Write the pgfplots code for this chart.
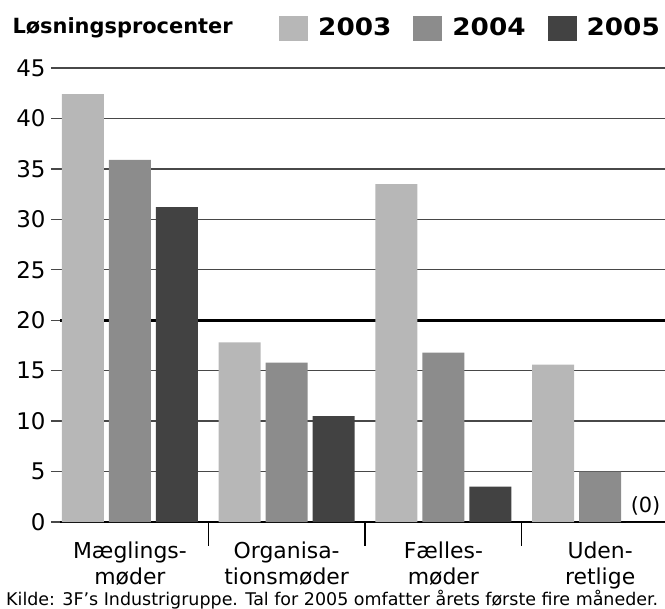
\documentclass[border=0pt]{standalone}
\usepackage{pgfplots}
\pgfplotsset{compat=1.18}
\usepackage{fontspec}
\setmainfont{DejaVu Sans}
\newfontfamily\legfont[FakeStretch=1.1]{DejaVu Sans}
\definecolor{c03}{RGB}{183,183,183}
\definecolor{c04}{RGB}{140,140,140}
\definecolor{c05}{RGB}{66,66,66}
\definecolor{gridc}{RGB}{72,72,72}
\begin{document}
\begin{tikzpicture}
\useasboundingbox (0,0) rectangle (665bp,609bp);
\begin{axis}[
 at={(60bp,87bp)}, anchor=south west,
 scale only axis, width=605bp, height=454bp,
 xmin=-0.446, xmax=3.414, ymin=0, ymax=45,
 clip=false,
 axis x line=bottom, axis y line=left,
 x axis line style={-, line width=1.8bp, black},
 y axis line style={draw=none},
 ytick={0,5,10,15,25,30,35,40,45},
 extra y ticks={20},
 extra y tick style={grid style={black, line width=2.6bp}, major tick style={black, line width=2.6bp}},
 ymajorgrids, grid style={gridc, line width=1.4bp},
 tick align=outside, major tick length=9bp,
 ytick style={gridc, line width=1.4bp},
 yticklabel style={font=\fontsize{23}{23}\selectfont, xshift=-2bp},
 /pgf/number format/assume math mode=true,
 xtick={0,1,2,3},
 xticklabels={{Mæglings-\\møder},{Organisa-\\tionsmøder},{Fælles-\\møder},{Uden-\\retlige}},
 xtick style={draw=none},
 xticklabel style={font=\fontsize{22}{26}\selectfont, align=center, yshift=-7bp},
 legend style={at={(1,1)}, anchor=south east, xshift=0bp, yshift=25bp, draw=none, fill=none,
   legend columns=-1, font=\legfont\bfseries\fontsize{24}{24}\selectfont,
   /tikz/every even column/.append style={column sep=20bp},
   /tikz/every odd column/.append style={column sep=8bp}},
]
\addplot[ybar, bar width=42bp, bar shift=-47bp, fill=c03, draw=none,
  legend image code/.code={\fill[c03] (0bp,-13bp) rectangle (29bp,12bp);}]
  coordinates {(0,42.4) (1,17.8) (2,33.5) (3,15.6)};
\addplot[ybar, bar width=42bp, bar shift=0bp, fill=c04, draw=none,
  legend image code/.code={\fill[c04] (0bp,-13bp) rectangle (29bp,12bp);}]
  coordinates {(0,35.9) (1,15.8) (2,16.8) (3,5.0)};
\addplot[ybar, bar width=42bp, bar shift=47bp, fill=c05, draw=none,
  legend image code/.code={\fill[c05] (0bp,-13bp) rectangle (29bp,12bp);}]
  coordinates {(0,31.2) (1,10.5) (2,3.5) (3,0)};
\legend{2003,2004,2005}
\node[anchor=south, font=\fontsize{21}{21}\selectfont, yshift=3bp] at (axis cs:3.29,0) {(0)};
\draw[black, line width=1.2bp] (axis cs:0.5,0) -- ([yshift=-24bp]axis cs:0.5,0);
\draw[black, line width=1.2bp] (axis cs:1.5,0) -- ([yshift=-24bp]axis cs:1.5,0);
\draw[black, line width=1.2bp] (axis cs:2.5,0) -- ([yshift=-24bp]axis cs:2.5,0);
\end{axis}
\node[anchor=base west, font=\bfseries\fontsize{21}{21}\selectfont] at (9bp,575bp) {Løsningsprocenter};
\node[anchor=base west, inner sep=0pt] at (6bp,4bp) {\resizebox{652bp}{!}{Kilde: 3F's Industrigruppe. Tal for 2005 omfatter årets første fire måneder.}};
\end{tikzpicture}
\end{document}
